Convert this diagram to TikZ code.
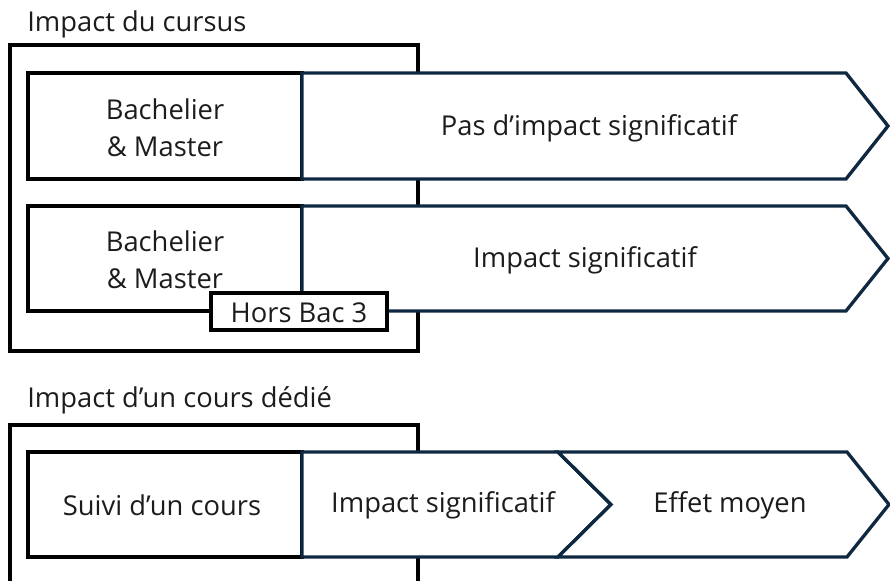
\documentclass[tikz,border=0pt]{standalone}
\usepackage{fontspec}
\setmainfont{Open Sans}
\definecolor{edgenavy}{HTML}{0E2841}
\definecolor{inktext}{HTML}{1C1C1C}
\begin{document}
\begin{tikzpicture}[x=0.75pt,y=-0.75pt,
  frame/.style={draw=black,line width=2.5pt},
  stage/.style={draw=black,line width=2.5pt,fill=white},
  chevron/.style={draw=edgenavy,line width=2.5pt,fill=white,line join=miter},
  lbl/.style={text=inktext,font=\fontsize{20.5}{27.5}\selectfont,align=center,inner sep=0pt},
]
\clip (0,0) rectangle (890,581);

% --- Impact du cursus ---
\node[lbl,anchor=west] (title1) at (27,24) {Impact du cursus};
\draw[frame] (10,45) rectangle (418,351);

\draw[stage] (28,73) rectangle (302,179);
\draw[chevron] (302,73) -- (846,73) -- (888,126) -- (846,179) -- (302,179) -- cycle;
\node[lbl] (bm1) at (165,127.5) {Bachelier\\\& Master};
\node[lbl] (none) at (589,128) {Pas d’impact significatif};

\draw[stage] (28,206) rectangle (302,311);
\draw[chevron] (302,206) -- (846,206) -- (888,258.5) -- (846,311) -- (302,311) -- cycle;
\node[lbl] (bm2) at (165,259.5) {Bachelier\\\& Master};
\node[lbl] (sig1) at (585,260) {Impact significatif};

\draw[stage] (211,293) rectangle (387,330);
\node[lbl] (hors) at (299,313) {Hors Bac 3};

% --- Impact d'un cours dédié ---
\node[lbl,anchor=west] (title2) at (27,400) {Impact d’un cours dédié};
\draw[frame] (10,425) rectangle (418,600);

\draw[stage] (28,452) rectangle (302,557);
\draw[chevron] (302,452) -- (558,452) -- (611,504.5) -- (558,557) -- (302,557) -- cycle;
\draw[chevron] (558,452) -- (847,452) -- (889,504.5) -- (847,557) -- (558,557) -- (611,504.5) -- cycle;
\node[lbl] (cours) at (162,505) {Suivi d’un cours};
\node[lbl] (sig2) at (443,505) {Impact significatif};
\node[lbl] (moyen) at (730,505) {Effet moyen};
\end{tikzpicture}
\end{document}
